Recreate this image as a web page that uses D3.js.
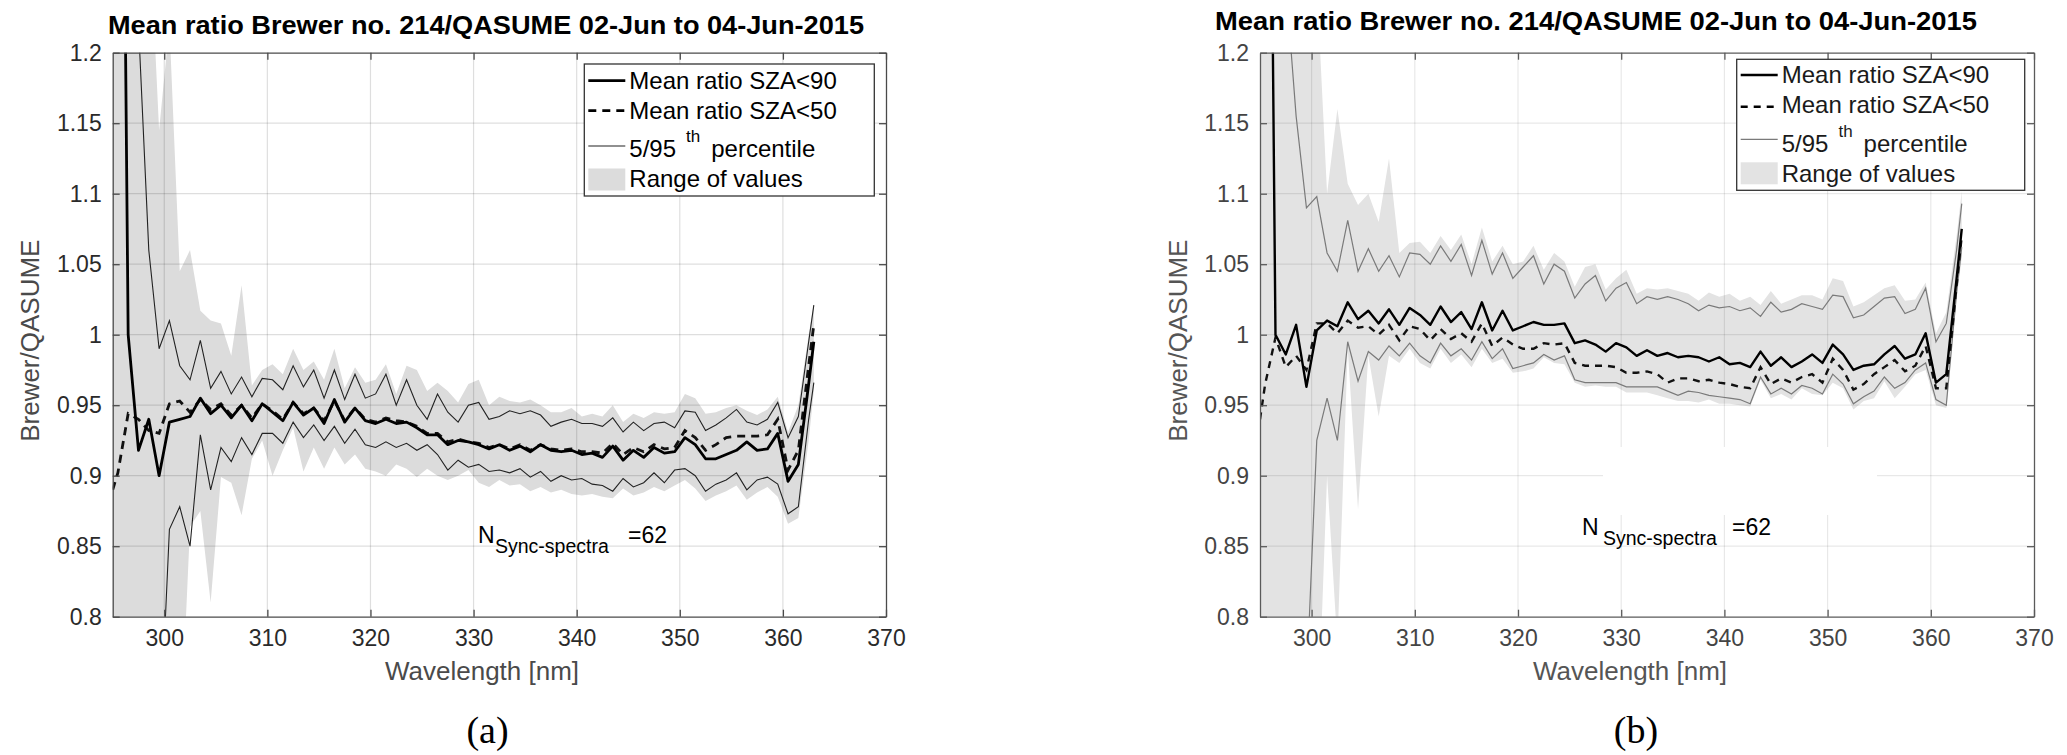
<!DOCTYPE html>
<html lang="en">
<head>
<meta charset="UTF-8">
<title>Mean ratio Brewer no. 214/QASUME</title>
<script src="https://d3js.org/d3.v7.min.js"></script>
<style>
  body { margin: 0; background: #fff; }
  svg { display: block; font-family: "Liberation Sans", Arial, Helvetica, sans-serif; }
  .axis text { font-size: 23px; font-family: "Liberation Sans", Arial, sans-serif; }
</style>
</head>
<body>
<svg id="chart" width="2067" height="755"></svg>
<script>
// wavelength grid [nm]
const wavelength = [295,
  295.5, 296.5, 297.5, 298.5, 299.5, 300.5, 301.5, 302.5, 303.5, 304.5,
  305.5, 306.5, 307.5, 308.5, 309.5, 310.5, 311.5, 312.5, 313.5, 314.5,
  315.5, 316.5, 317.5, 318.5, 319.5, 320.5, 321.5, 322.5, 323.5, 324.5,
  325.5, 326.5, 327.5, 328.5, 329.5, 330.5, 331.5, 332.5, 333.5, 334.5,
  335.5, 336.5, 337.5, 338.5, 339.5, 340.5, 341.5, 342.5, 343.5, 344.5,
  345.5, 346.5, 347.5, 348.5, 349.5, 350.5, 351.5, 352.5, 353.5, 354.5,
  355.5, 356.5, 357.5, 358.5, 359.5, 360.5, 361.5, 362.5, 363];

// panel (a)
const meanA90 = [2.0,
  1.8, 1.0, 0.918, 0.940, 0.900, 0.938, 0.940, 0.942, 0.955, 0.944,
  0.950, 0.941, 0.950, 0.939, 0.951, 0.945, 0.939, 0.952, 0.943, 0.948,
  0.937, 0.954, 0.938, 0.948, 0.939, 0.937, 0.940, 0.937, 0.938, 0.934,
  0.929, 0.929, 0.922, 0.925, 0.924, 0.922, 0.919, 0.922, 0.918, 0.921,
  0.917, 0.922, 0.918, 0.917, 0.918, 0.915, 0.916, 0.913, 0.921, 0.911,
  0.918, 0.913, 0.920, 0.916, 0.917, 0.927, 0.922, 0.912, 0.912, 0.915,
  0.918, 0.924, 0.918, 0.919, 0.930, 0.896, 0.908, 0.965, 0.995];
const meanA50 = [0.89,
  0.902, 0.944, 0.940, 0.932, 0.930, 0.951, 0.953, 0.945, 0.954, 0.947,
  0.951, 0.943, 0.950, 0.941, 0.951, 0.946, 0.940, 0.952, 0.944, 0.948,
  0.939, 0.953, 0.939, 0.948, 0.940, 0.938, 0.941, 0.939, 0.938, 0.935,
  0.930, 0.930, 0.924, 0.926, 0.924, 0.923, 0.920, 0.922, 0.919, 0.922,
  0.918, 0.922, 0.919, 0.918, 0.919, 0.917, 0.917, 0.916, 0.923, 0.915,
  0.920, 0.917, 0.922, 0.919, 0.920, 0.932, 0.927, 0.918, 0.922, 0.927,
  0.928, 0.928, 0.928, 0.929, 0.940, 0.904, 0.918, 0.978, 1.007];
const p95A = [1.4,
  1.4, 1.3, 1.22, 1.060, 0.990, 1.010, 0.978, 0.968, 0.996, 0.962,
  0.974, 0.958, 0.970, 0.956, 0.969, 0.968, 0.961, 0.978, 0.963, 0.975,
  0.955, 0.975, 0.954, 0.972, 0.955, 0.958, 0.972, 0.950, 0.968, 0.950,
  0.940, 0.958, 0.945, 0.938, 0.950, 0.952, 0.940, 0.942, 0.946, 0.944,
  0.946, 0.943, 0.935, 0.938, 0.940, 0.937, 0.937, 0.935, 0.941, 0.931,
  0.938, 0.932, 0.937, 0.938, 0.934, 0.946, 0.945, 0.932, 0.936, 0.941,
  0.947, 0.938, 0.936, 0.940, 0.952, 0.927, 0.942, 0.995, 1.021];
const p5A = [0.6,
  0.6, 0.6, 0.6, 0.6, 0.7, 0.862, 0.878, 0.850, 0.929, 0.890,
  0.920, 0.910, 0.927, 0.915, 0.930, 0.930, 0.923, 0.938, 0.927, 0.936,
  0.925, 0.935, 0.923, 0.933, 0.922, 0.920, 0.924, 0.920, 0.923, 0.918,
  0.922, 0.915, 0.904, 0.911, 0.906, 0.908, 0.903, 0.904, 0.902, 0.905,
  0.899, 0.903, 0.896, 0.900, 0.897, 0.898, 0.894, 0.893, 0.889, 0.898,
  0.892, 0.895, 0.902, 0.895, 0.904, 0.905, 0.900, 0.889, 0.894, 0.897,
  0.902, 0.890, 0.897, 0.899, 0.894, 0.873, 0.878, 0.940, 0.966];
const maxA = [1.3,
  1.3, 1.3, 1.3, 1.3, 1.145, 1.22, 1.045, 1.060, 1.017, 1.010,
  1.008, 0.985, 1.035, 0.964, 0.975, 0.979, 0.972, 0.990, 0.975, 0.981,
  0.968, 0.990, 0.962, 0.977, 0.966, 0.968, 0.979, 0.958, 0.978, 0.975,
  0.960, 0.966, 0.960, 0.952, 0.965, 0.968, 0.950, 0.956, 0.953, 0.952,
  0.954, 0.950, 0.945, 0.945, 0.948, 0.942, 0.944, 0.942, 0.950, 0.938,
  0.944, 0.941, 0.945, 0.944, 0.945, 0.958, 0.955, 0.944, 0.945, 0.948,
  0.950, 0.946, 0.943, 0.947, 0.956, 0.931, 0.950, 1.000, 1.022];
const minA = [0.7,
  0.7, 0.7, 0.7, 0.7, 0.7, 0.7, 0.7, 0.864, 0.875, 0.810,
  0.899, 0.895, 0.872, 0.912, 0.925, 0.900, 0.918, 0.934, 0.903, 0.920,
  0.905, 0.920, 0.908, 0.915, 0.905, 0.903, 0.900, 0.908, 0.905, 0.899,
  0.905, 0.900, 0.897, 0.900, 0.904, 0.895, 0.892, 0.897, 0.893, 0.894,
  0.889, 0.892, 0.888, 0.890, 0.887, 0.886, 0.887, 0.885, 0.884, 0.891,
  0.886, 0.888, 0.892, 0.889, 0.893, 0.897, 0.891, 0.882, 0.886, 0.889,
  0.893, 0.883, 0.888, 0.892, 0.885, 0.866, 0.870, 0.925, 0.960];

// panel (b)
const meanB90 = [2.0,
  1.8, 1.0, 0.986, 1.007, 0.963, 1.003, 1.010, 1.006, 1.023, 1.011,
  1.017, 1.008, 1.018, 1.007, 1.019, 1.014, 1.007, 1.020, 1.009, 1.016,
  1.004, 1.023, 1.003, 1.017, 1.003, 1.006, 1.009, 1.007, 1.007, 1.008,
  0.994, 0.996, 0.993, 0.988, 0.994, 0.991, 0.985, 0.989, 0.985, 0.987,
  0.984, 0.985, 0.984, 0.981, 0.984, 0.979, 0.980, 0.977, 0.988, 0.978,
  0.984, 0.977, 0.981, 0.986, 0.980, 0.993, 0.986, 0.975, 0.978, 0.979,
  0.986, 0.992, 0.983, 0.986, 1.001, 0.966, 0.972, 1.040, 1.075];
const meanB50 = [0.94,
  0.965, 0.998, 0.977, 0.985, 0.975, 1.008, 1.008, 1.001, 1.010, 1.005,
  1.006, 1.000, 1.007, 0.996, 1.006, 1.004, 0.996, 1.004, 0.997, 1.001,
  0.995, 1.008, 0.992, 0.998, 0.993, 0.990, 0.990, 0.994, 0.993, 0.994,
  0.980, 0.978, 0.978, 0.978, 0.977, 0.973, 0.973, 0.974, 0.972, 0.966,
  0.969, 0.969, 0.967, 0.968, 0.966, 0.965, 0.963, 0.962, 0.977, 0.965,
  0.969, 0.966, 0.970, 0.972, 0.966, 0.983, 0.975, 0.961, 0.965, 0.972,
  0.977, 0.982, 0.974, 0.978, 0.992, 0.962, 0.962, 1.035, 1.070];
const p95B = [1.4,
  1.4, 1.4, 1.25, 1.155, 1.090, 1.098, 1.058, 1.045, 1.081, 1.045,
  1.061, 1.045, 1.056, 1.041, 1.058, 1.057, 1.050, 1.063, 1.052, 1.064,
  1.042, 1.067, 1.043, 1.058, 1.040, 1.048, 1.056, 1.036, 1.050, 1.045,
  1.026, 1.036, 1.042, 1.024, 1.033, 1.037, 1.022, 1.027, 1.025, 1.027,
  1.025, 1.022, 1.017, 1.021, 1.019, 1.020, 1.017, 1.019, 1.013, 1.023,
  1.016, 1.018, 1.022, 1.020, 1.018, 1.028, 1.027, 1.012, 1.014, 1.020,
  1.026, 1.027, 1.015, 1.018, 1.033, 0.995, 1.008, 1.060, 1.093];
const p5B = [0.6,
  0.6, 0.6, 0.6, 0.6, 0.75, 0.925, 0.955, 0.925, 0.995, 0.967,
  0.988, 0.982, 0.992, 0.985, 0.994, 0.985, 0.980, 0.994, 0.985, 0.990,
  0.982, 0.995, 0.983, 0.990, 0.976, 0.978, 0.980, 0.986, 0.982, 0.985,
  0.968, 0.966, 0.966, 0.966, 0.966, 0.963, 0.963, 0.963, 0.963, 0.960,
  0.957, 0.960, 0.959, 0.957, 0.956, 0.955, 0.954, 0.951, 0.970, 0.958,
  0.962, 0.958, 0.964, 0.962, 0.958, 0.972, 0.965, 0.951, 0.956, 0.960,
  0.970, 0.962, 0.966, 0.975, 0.980, 0.954, 0.950, 1.030, 1.062];
const maxB = [1.3,
  1.3, 1.3, 1.3, 1.3, 1.3, 1.25, 1.10, 1.16, 1.107, 1.092,
  1.100, 1.080, 1.125, 1.058, 1.065, 1.066, 1.058, 1.070, 1.060, 1.071,
  1.050, 1.076, 1.052, 1.063, 1.050, 1.052, 1.063, 1.046, 1.058, 1.052,
  1.034, 1.048, 1.050, 1.032, 1.040, 1.046, 1.029, 1.033, 1.032, 1.033,
  1.031, 1.029, 1.024, 1.030, 1.027, 1.029, 1.024, 1.027, 1.021, 1.031,
  1.022, 1.025, 1.028, 1.028, 1.025, 1.040, 1.038, 1.020, 1.023, 1.028,
  1.033, 1.035, 1.024, 1.025, 1.037, 1.001, 1.016, 1.070, 1.102];
const minB = [0.7,
  0.7, 0.7, 0.7, 0.7, 0.7, 0.7, 0.90, 0.78, 0.990, 0.876,
  0.985, 0.942, 0.985, 0.980, 0.990, 0.980, 0.976, 0.990, 0.980, 0.986,
  0.977, 0.990, 0.980, 0.983, 0.973, 0.974, 0.976, 0.984, 0.980, 0.979,
  0.966, 0.963, 0.964, 0.963, 0.963, 0.959, 0.959, 0.959, 0.957, 0.955,
  0.953, 0.953, 0.952, 0.954, 0.951, 0.951, 0.950, 0.949, 0.968, 0.955,
  0.958, 0.954, 0.962, 0.958, 0.957, 0.966, 0.962, 0.947, 0.953, 0.955,
  0.967, 0.955, 0.963, 0.972, 0.975, 0.950, 0.948, 1.025, 1.055];

const xTicks = [300, 310, 320, 330, 340, 350, 360, 370];
const yTicks = [0.8, 0.85, 0.9, 0.95, 1, 1.05, 1.1, 1.15, 1.2];
const yTickLabels = ["0.8", "0.85", "0.9", "0.95", "1", "1.05", "1.1", "1.15", "1.2"];
const titleText = "Mean ratio Brewer no. 214/QASUME 02-Jun to 04-Jun-2015";
const legendText = ["Mean ratio SZA<90", "Mean ratio SZA<50", "5/95", "Range of values"];

const svg = d3.select('#chart');

function drawPanel(c) {
  const x = d3.scaleLinear().domain([295, 370]).range([c.left, c.right]);
  const y = d3.scaleLinear().domain([0.8, 1.2]).range([c.bottom, c.top]);
  const g = svg.append('g');

  svg.append('clipPath').attr('id', 'clip-' + c.id)
    .append('rect')
    .attr('x', c.left).attr('y', c.top)
    .attr('width', c.right - c.left).attr('height', c.bottom - c.top);
  const plot = g.append('g').attr('clip-path', `url(#clip-${c.id})`);

  // range of values
  const band = wavelength.map((w, i) => ({ w: w, lo: c.min[i], hi: c.max[i] }));
  plot.append('path')
    .datum(band)
    .attr('fill', c.fill)
    .attr('d', d3.area().x(d => x(d.w)).y0(d => y(d.lo)).y1(d => y(d.hi)));

  // grid on top of the band
  plot.selectAll('.vgrid').data(xTicks.filter(t => t < 370)).join('line')
    .attr('x1', d => x(d)).attr('x2', d => x(d))
    .attr('y1', c.top).attr('y2', c.bottom)
    .attr('stroke', '#000').attr('stroke-opacity', c.gridOpacity).attr('stroke-width', 1.2);
  plot.selectAll('.hgrid').data(yTicks.slice(1, -1)).join('line')
    .attr('x1', c.left).attr('x2', c.right)
    .attr('y1', d => y(d)).attr('y2', d => y(d))
    .attr('stroke', '#000').attr('stroke-opacity', c.gridOpacity).attr('stroke-width', 1.2);

  if (c.patch) {
    g.append('rect')
      .attr('x', c.patch[0]).attr('y', c.patch[1])
      .attr('width', c.patch[2]).attr('height', c.patch[3])
      .attr('fill', '#fff');
  }

  const line = vals => d3.line().x((d, i) => x(wavelength[i])).y(d => y(d))(vals);

  [c.p95, c.p5].forEach(vals => {
    plot.append('path').attr('d', line(vals))
      .attr('fill', 'none').attr('stroke', c.pctColor).attr('stroke-width', c.pctWidth);
  });
  plot.append('path').attr('d', line(c.mean50))
    .attr('fill', 'none').attr('stroke', '#111').attr('stroke-width', c.meanWidth)
    .attr('stroke-dasharray', c.dash);
  plot.append('path').attr('d', line(c.mean90))
    .attr('fill', 'none').attr('stroke', '#000').attr('stroke-width', c.meanWidth)
    .attr('stroke-linejoin', 'round');

  // axes, ticks inward on all four sides
  const axisColor = c.axisColor;
  const styleAxis = sel => {
    sel.select('.domain').attr('stroke', axisColor).attr('stroke-width', 1.3);
    sel.selectAll('.tick line').attr('stroke', axisColor).attr('stroke-width', 1.3);
    sel.selectAll('.tick text').attr('fill', c.textColor);
  };
  g.append('g').attr('class', 'axis')
    .attr('transform', `translate(0,${c.bottom})`)
    .call(d3.axisBottom(x).tickValues(xTicks).tickSizeInner(-7).tickSizeOuter(0).tickPadding(13))
    .call(styleAxis);
  g.append('g').attr('class', 'axis')
    .attr('transform', `translate(0,${c.top})`)
    .call(d3.axisTop(x).tickValues(xTicks).tickSizeInner(-7).tickSizeOuter(0).tickFormat(''))
    .call(styleAxis);
  g.append('g').attr('class', 'axis')
    .attr('transform', `translate(${c.left},0)`)
    .call(d3.axisLeft(y).tickValues(yTicks).tickSizeInner(-7).tickSizeOuter(0).tickPadding(11)
      .tickFormat((d, i) => yTickLabels[i]))
    .call(styleAxis);
  g.append('g').attr('class', 'axis')
    .attr('transform', `translate(${c.right},0)`)
    .call(d3.axisRight(y).tickValues(yTicks).tickSizeInner(-7).tickSizeOuter(0).tickFormat(''))
    .call(styleAxis);

  // title and axis labels
  g.append('text')
    .attr('x', c.titleX).attr('y', c.titleY)
    .attr('font-size', 25).attr('font-weight', 'bold').attr('fill', '#000')
    .attr('textLength', c.titleW).attr('lengthAdjust', 'spacingAndGlyphs')
    .text(titleText);
  g.append('text')
    .attr('x', c.xLabelX).attr('y', 680)
    .attr('text-anchor', 'middle').attr('font-size', 26).attr('fill', c.labelColor)
    .text('Wavelength [nm]');
  g.append('text')
    .attr('transform', `translate(${c.yLabelX},${(c.top + c.bottom) / 2 + 6}) rotate(-90)`)
    .attr('text-anchor', 'middle').attr('font-size', 26).attr('fill', c.labelColor)
    .text('Brewer/QASUME');

  // N annotation
  const n = g.append('text').attr('fill', '#000');
  g.append('text').attr('x', c.nX).attr('y', c.nY).attr('font-size', 23).text('N');
  g.append('text').attr('x', c.nX + c.subDx).attr('y', c.nY + 10).attr('font-size', 19.5).text('Sync-spectra');
  g.append('text').attr('x', c.nX + c.eqDx).attr('y', c.nY).attr('font-size', 23).text('=62');

  // legend
  const L = c.legend;
  g.append('rect')
    .attr('x', L.x).attr('y', L.y).attr('width', L.w).attr('height', L.h)
    .attr('fill', '#fff').attr('stroke', '#333').attr('stroke-width', 1.3);
  const lx0 = L.x + 4, lx1 = L.x + 41, tx = L.x + 45;
  g.append('line').attr('x1', lx0).attr('x2', lx1).attr('y1', L.rows[0]).attr('y2', L.rows[0])
    .attr('stroke', '#000').attr('stroke-width', c.meanWidth);
  g.append('line').attr('x1', lx0).attr('x2', lx1).attr('y1', L.rows[1]).attr('y2', L.rows[1])
    .attr('stroke', '#000').attr('stroke-width', c.meanWidth).attr('stroke-dasharray', c.dash);
  g.append('line').attr('x1', lx0).attr('x2', lx1).attr('y1', L.rows[2]).attr('y2', L.rows[2])
    .attr('stroke', c.pctColor).attr('stroke-width', c.pctWidth);
  g.append('rect').attr('x', lx0).attr('y', L.rows[3] - 11).attr('width', lx1 - lx0).attr('height', 22)
    .attr('fill', c.fill);
  const lt = (i, s) => g.append('text').attr('x', tx).attr('y', L.base[i])
    .attr('font-size', 24).attr('fill', c.legendText).text(s);
  lt(0, legendText[0]);
  lt(1, legendText[1]);
  const t3 = lt(2, '');
  t3.append('tspan').text(legendText[2]);
  t3.append('tspan').attr('dx', 10).attr('dy', -15).attr('font-size', 17).text('th');
  t3.append('tspan').attr('dx', 11).attr('dy', 15).text('percentile');
  lt(3, legendText[3]);

  // panel letter
  svg.append('text')
    .attr('x', c.letterX).attr('y', 743)
    .attr('text-anchor', 'middle')
    .attr('font-family', '"Liberation Serif", "Times New Roman", serif')
    .attr('font-size', 38).attr('fill', '#000')
    .text(c.letter);
}

drawPanel({
  id: 'a', left: 112.7, right: 886, top: 52.7, bottom: 616.7,
  mean90: meanA90, mean50: meanA50, p95: p95A, p5: p5A, max: maxA, min: minA,
  fill: '#dcdcdc', gridOpacity: 0.13, pctColor: '#222', pctWidth: 1.1,
  meanWidth: 2.8, dash: '8,6', axisColor: '#4a4a4a', textColor: '#2a2a2a', labelColor: '#4a4a4a',
  titleX: 108, titleY: 34, titleW: 756, xLabelX: 482, yLabelX: 39,
  nX: 478, nY: 543, subDx: 17, eqDx: 150,
  legend: { x: 584.3, y: 64, w: 290, h: 132, rows: [80.7, 110.7, 146, 179.5], base: [88.5, 119, 156.5, 187] },
  legendText: '#000',
  letter: '(a)', letterX: 487.5
});

drawPanel({
  id: 'b', left: 1260, right: 2034, top: 52.7, bottom: 616.7,
  mean90: meanB90, mean50: meanB50, p95: p95B, p5: p5B, max: maxB, min: minB,
  fill: '#e3e3e3', gridOpacity: 0.09, pctColor: '#7a7a7a', pctWidth: 1.2,
  meanWidth: 2.4, dash: '7,6', axisColor: '#5a5a5a', textColor: '#444', labelColor: '#555',
  titleX: 1215, titleY: 30, titleW: 762, xLabelX: 1630, yLabelX: 1187,
  nX: 1582, nY: 535, subDx: 21, eqDx: 150,
  patch: [1603, 447, 274, 68],
  legend: { x: 1736.7, y: 59.3, w: 288, h: 131, rows: [75, 106.7, 139.3, 173.3], base: [83.3, 113.3, 151.7, 181.7] },
  legendText: '#1a1a1a',
  letter: '(b)', letterX: 1636
});
</script>
</body>
</html>
